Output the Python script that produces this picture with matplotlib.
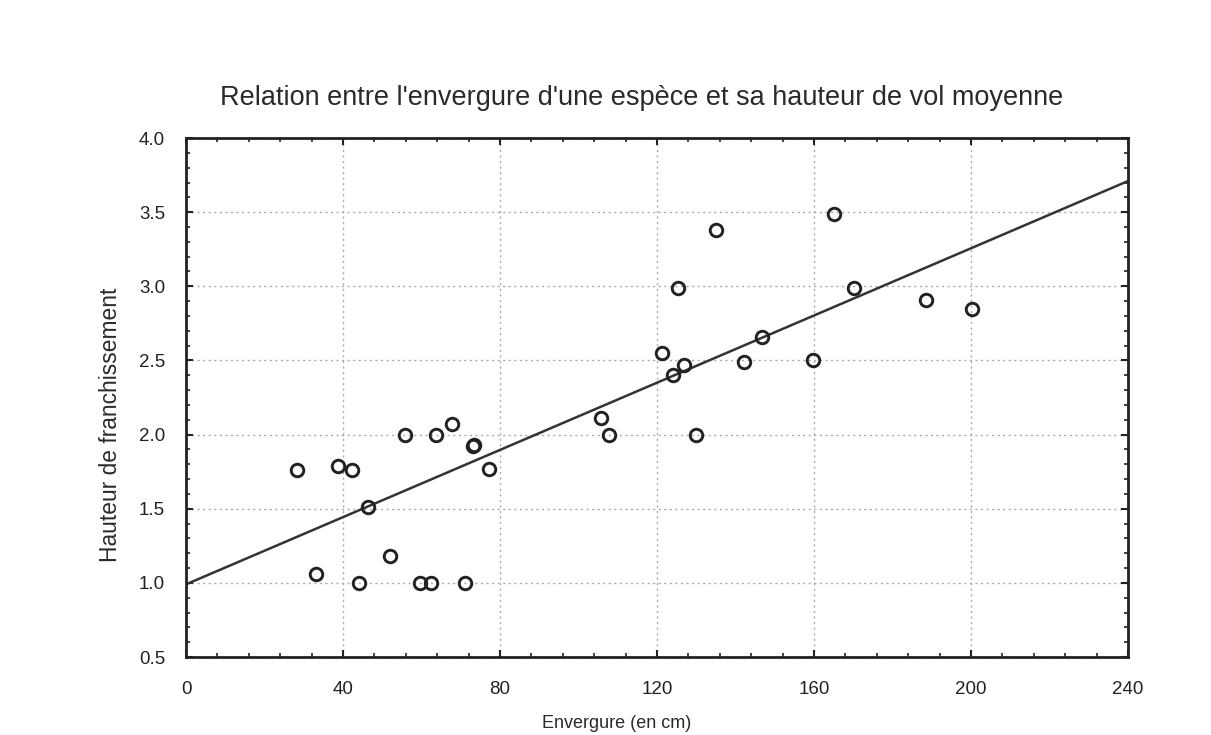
import matplotlib
matplotlib.use("Agg")
import matplotlib.pyplot as plt
import numpy as np
from matplotlib.ticker import MultipleLocator

plt.rcParams['font.family'] = ['Liberation Sans', 'DejaVu Sans']

# wingspan (cm) vs mean flight height
envergure = [28.3, 33.2, 38.6, 42.4, 44.1, 46.4, 51.9, 55.8, 59.7, 62.5,
             63.6, 67.7, 73.1, 73.3, 77.2, 71.2, 105.6, 107.8, 121.3, 124.1,
             125.3, 126.8, 130.0, 135.1, 142.1, 146.8, 159.7, 165.0, 170.1,
             188.4, 200.3]
hauteur = [1.76, 1.06, 1.79, 1.76, 1.00, 1.51, 1.18, 2.00, 1.00, 1.00,
           2.00, 2.07, 1.92, 1.93, 1.77, 1.00, 2.11, 2.00, 2.55, 2.40,
           2.99, 2.47, 2.00, 3.38, 2.49, 2.66, 2.50, 3.49, 2.99, 2.91,
           2.85]

# regression line
droite_x = [0, 240]
droite_y = [0.99, 3.71]

fig = plt.figure(figsize=(12.11, 7.35), dpi=100)
ax = fig.add_axes([0.1536, 0.1061, 0.7779, 0.7061])

ax.plot(droite_x, droite_y, color='#333333', lw=1.8, zorder=2)
ax.plot(envergure, hauteur, 'o', mfc='none', mec='#222222', ms=9,
        mew=2.1, zorder=3)

ax.set_xlim(0, 240)
ax.set_ylim(0.5, 4.0)
ax.xaxis.set_major_locator(MultipleLocator(40))
ax.xaxis.set_minor_locator(MultipleLocator(8))
ax.yaxis.set_major_locator(MultipleLocator(0.5))
ax.yaxis.set_minor_locator(MultipleLocator(0.1))
ax.yaxis.set_major_formatter(matplotlib.ticker.FormatStrFormatter('%.1f'))

ax.tick_params(which='both', direction='in', top=True, right=True,
               colors='#222222', labelcolor='#222222')
ax.tick_params(which='major', length=5, width=1.5, labelsize=13.5)
ax.tick_params(which='minor', length=3, width=1.2)
ax.tick_params(axis='x', pad=17)
ax.tick_params(axis='y', pad=15)
for s in ax.spines.values():
    s.set_linewidth(2)
    s.set_color('#222222')

ax.grid(True, which='major', ls=(0, (1.5, 2.5)), color='#aaaaaa', lw=1)

fig.text(0.530, 0.867, "Relation entre l'envergure d'une espèce et sa hauteur de vol moyenne",
         ha='center', va='center', fontsize=19.5, color='#2a2a2a')
fig.text(0.509, 0.016, "Envergure (en cm)", ha='center', va='center',
         fontsize=13, color='#2a2a2a')
fig.text(0.091, 0.422, "Hauteur de franchissement", ha='center', va='center',
         rotation=90, fontsize=16.4, color='#2a2a2a')

fig.savefig('out.png', dpi=100)
